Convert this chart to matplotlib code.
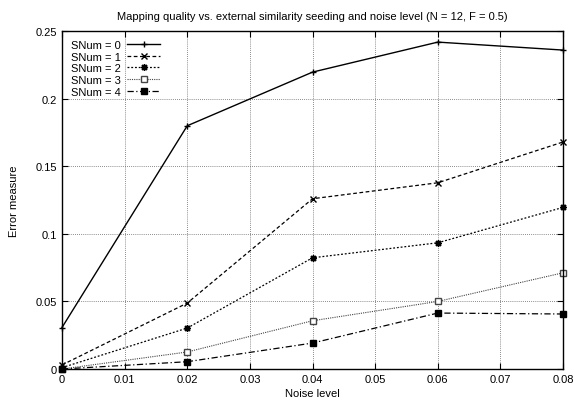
import matplotlib
matplotlib.use("Agg")
import matplotlib.pyplot as plt

plt.rcParams['font.family'] = ['Liberation Sans', 'DejaVu Sans']

noise = [0.0, 0.02, 0.04, 0.06, 0.08]
labels = ["SNum = 0", "SNum = 1", "SNum = 2", "SNum = 3", "SNum = 4"]
s0 = [0.0307, 0.180, 0.2197, 0.2419, 0.236]
s1 = [0.003, 0.0488, 0.126, 0.1378, 0.168]
s2 = [0.001, 0.0303, 0.0823, 0.0934, 0.1196]
s3 = [0.0, 0.0126, 0.0357, 0.050, 0.0712]
s4 = [0.0, 0.0054, 0.0192, 0.0414, 0.0407]
xticks = [0, 0.01, 0.02, 0.03, 0.04, 0.05, 0.06, 0.07, 0.08]
xticklabels = ["0", "0.01", "0.02", "0.03", "0.04", "0.05", "0.06", "0.07", "0.08"]
yticks = [0, 0.05, 0.1, 0.15, 0.2, 0.25]
yticklabels = ["0", "0.05", "0.1", "0.15", "0.2", "0.25"]

fig = plt.figure(figsize=(5.74, 4.02), dpi=100)
ax = fig.add_axes([0.108, 0.0796, 0.873, 0.8404])

styles = [
    dict(color='black', linestyle='-', marker='+', markersize=5, lw=1.0),
    dict(color='black', linestyle=(0, (3, 2)), marker='x', markersize=4, lw=0.9),
    dict(color='black', linestyle=(0, (1.5, 1.5)), marker=(8, 2, 0), markersize=5, lw=0.9),
    dict(color='#444444', linestyle=(0, (1, 1)), marker='s', markersize=4, mfc='white', lw=0.8),
    dict(color='black', linestyle=(0, (5, 2, 1, 2)), marker='s', markersize=5, lw=0.9),
]
for series, lab, st in zip([s0, s1, s2, s3, s4], labels, styles):
    ax.plot(noise, series, label=lab, clip_on=False, **st)

ax.set_xlim(0, 0.08)
ax.set_ylim(0, 0.25)
ax.set_xticks(xticks)
ax.set_xticklabels(xticklabels)
ax.set_yticks(yticks)
ax.set_yticklabels(yticklabels)
ax.tick_params(direction='in', top=True, right=True, labelsize=8, length=4, width=0.8)
ax.grid(True, linestyle=(0, (1, 1.5)), color='#666666', lw=0.6)
for sp in ax.spines.values():
    sp.set_linewidth(1.0)

ax.set_xlabel("Noise level", fontsize=8, labelpad=3)
ax.set_ylabel("Error measure", fontsize=8, labelpad=12)
ax.set_title("Mapping quality vs. external similarity seeding and noise level (N = 12, F = 0.5)", fontsize=8, pad=9)

leg = ax.legend(loc='upper left', frameon=False, markerfirst=False, fontsize=8,
                handlelength=3.0, borderaxespad=0.6, labelspacing=0.15,
                handletextpad=0.55, borderpad=0.2)
for t in leg.get_texts():
    t.set_ha('right')

fig.savefig("out.png", dpi=100)
